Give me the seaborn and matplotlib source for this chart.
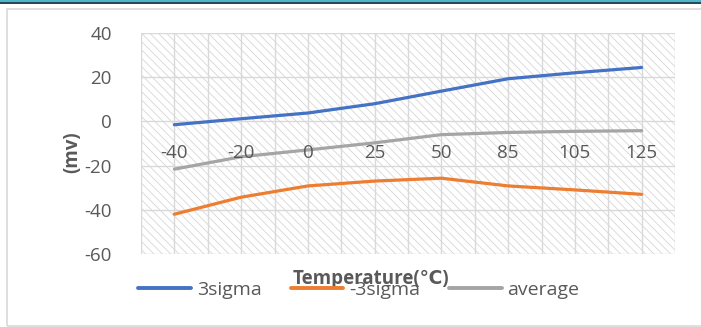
import matplotlib
matplotlib.use("Agg")
import matplotlib.pyplot as plt
from matplotlib.patches import Rectangle
from matplotlib.lines import Line2D
import seaborn as sns
import pandas as pd

categories = ["-40", "-20", "0", "25", "50", "85", "105", "125"]
sigma3 = [-1.5, 1.2, 3.8, 8.0, 13.7, 19.3, 22.0, 24.4]
neg_sigma3 = [-42.0, -34.3, -29.2, -27.0, -25.7, -29.2, -31.0, -33.0]
average = [-21.6, -16.0, -12.9, -9.7, -6.0, -5.0, -4.5, -4.2]
series_names = ["3sigma", "-3sigma", "average"]
colors = ["#4472c4", "#ed7d31", "#a5a5a5"]
y_ticks = [-60, -40, -20, 0, 20, 40]

sns.set_theme(style="white")
plt.rcParams["font.family"] = ["Open Sans", "DejaVu Sans"]
plt.rcParams["hatch.linewidth"] = 0.6
plt.rcParams["hatch.color"] = "#d6d6d6"

rows = []
for name, vals in zip(series_names, [sigma3, neg_sigma3, average]):
    for i, (c, v) in enumerate(zip(categories, vals)):
        rows.append({"pos": i, "cat": c, "value": v, "series": name})
df = pd.DataFrame(rows)

W, H = 701, 327
fig = plt.figure(figsize=(W / 100, H / 100), dpi=100)
fig.patch.set_facecolor("white")

# outer chart border and top band
fig.patches.append(Rectangle((7 / W, 1 - 326 / H), 720 / W, (326 - 9) / H,
                             transform=fig.transFigure, facecolor="none",
                             edgecolor="#d9d9d9", lw=1.2, zorder=0))
fig.patches.append(Rectangle((0, 1 - 2.5 / H), 1, 2.5 / H, transform=fig.transFigure,
                             facecolor="#4fb6c9", edgecolor="none", zorder=1))
fig.patches.append(Rectangle((0, 1 - 3.5 / H), 1, 1 / H, transform=fig.transFigure,
                             facecolor="#2a4a5a", edgecolor="none", zorder=1))

left, right, top, bottom = 141, 675, 33, 254
ax = fig.add_axes([left / W, 1 - bottom / H, (right - left) / W, (bottom - top) / H])
ax.set_facecolor("white")

n = len(categories)
ax.set_xlim(-0.5, n - 0.5)
ax.set_ylim(-60, 40)

# hatched plot background
ax.add_patch(Rectangle((0, 0), 1, 1, transform=ax.transAxes, facecolor="white",
                       edgecolor="#d6d6d6", hatch="\\\\\\\\", lw=0, zorder=0))

# grid lines
for yv in y_ticks:
    ax.axhline(yv, color="#d9d9d9", lw=1.0, zorder=1)
for k in range(2 * n + 1):
    ax.axvline(-0.5 + k * 0.5, color="#d9d9d9", lw=1.0, zorder=1)

sns.lineplot(data=df, x="pos", y="value", hue="series", hue_order=series_names,
             palette=colors, linewidth=2.3, ax=ax, legend=False, zorder=3,
             solid_capstyle="round", sort=False)

for s in ax.spines.values():
    s.set_visible(False)

ax.set_yticks(y_ticks)
ax.set_yticklabels([str(v) for v in y_ticks])
ax.tick_params(axis="y", length=0, pad=21, labelsize=13.5, labelcolor="#595959")
ax.set_xticks([])
ax.set_xlabel("")
ax.set_ylabel("")

# category labels sit below the zero line
for i, c in enumerate(categories):
    ax.annotate(c, xy=(i, 0), xycoords="data", xytext=(0, -32), textcoords="offset pixels",
                ha="center", va="center", fontsize=13.5, color="#595959")

# axis titles
fig.text(72 / W, 1 - 152 / H, "(mv)", rotation=90, ha="center", va="center",
         fontsize=13.5, fontweight="bold", color="#595959")

# legend
handles = [Line2D([0], [0], color=c, lw=2.8, solid_capstyle="round") for c in colors]
fig.legend(handles, series_names, loc="center", bbox_to_anchor=(359 / W, 1 - 290 / H),
           ncol=3, frameon=False, fontsize=14, labelcolor="#595959",
           handlelength=2.7, handletextpad=0.3, columnspacing=1.5)

fig.text(371 / W, 1 - 279 / H, "Temperature(℃)", ha="center", va="center",
         fontsize=13.5, fontweight="bold", color="#595959")

fig.savefig("out.png", dpi=100, facecolor="white")
